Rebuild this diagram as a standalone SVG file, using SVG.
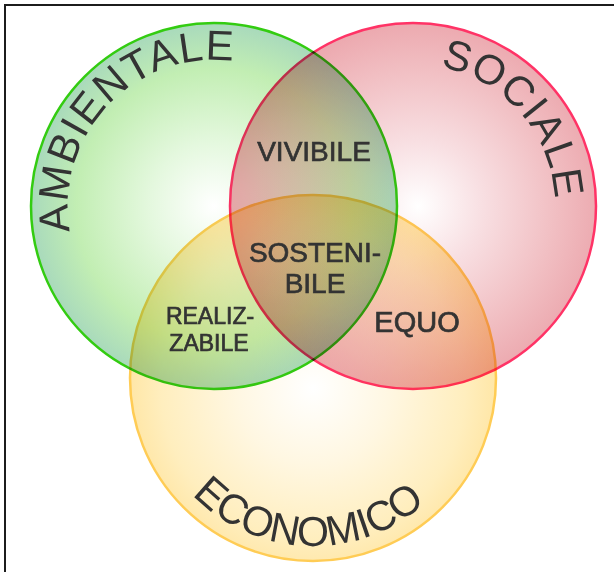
<svg xmlns="http://www.w3.org/2000/svg" width="614" height="572" viewBox="0 0 614 572">
<style>
.ring{stroke-width:2.5;mix-blend-mode:multiply}
.arc{font-family:"Liberation Sans",Arial,sans-serif;font-size:42px;fill:#333}
.lbl{font-family:"Liberation Sans",Arial,sans-serif;fill:#333;stroke:#333;stroke-width:0.7;text-anchor:middle}
</style>
<defs>
<radialGradient id="gG" cx="214" cy="206" r="184" gradientUnits="userSpaceOnUse">
<stop offset="0" stop-color="#ffffff"/>
<stop offset="0.35" stop-color="#e4f8de"/>
<stop offset="0.75" stop-color="#c2eeb3"/>
<stop offset="1" stop-color="#a8d9bc"/>
</radialGradient>
<radialGradient id="gR" cx="418" cy="206" r="184" gradientUnits="userSpaceOnUse">
<stop offset="0" stop-color="#ffffff"/>
<stop offset="0.35" stop-color="#f8dfe2"/>
<stop offset="0.75" stop-color="#f1bec2"/>
<stop offset="1" stop-color="#eca9af"/>
</radialGradient>
<radialGradient id="gY" cx="313" cy="388" r="190" gradientUnits="userSpaceOnUse">
<stop offset="0" stop-color="#ffffff"/>
<stop offset="0.4" stop-color="#fff7e2"/>
<stop offset="0.8" stop-color="#ffeebe"/>
<stop offset="1" stop-color="#ffe5a2"/>
</radialGradient>
<path id="pA" d="M70.2,231.4 A146,146 0 0 1 251.8,65"/>
<path id="pS" d="M440.1,66.7 A142,142 0 0 1 555,203"/>
<path id="pE" d="M192.2,494.7 A168,168 0 0 0 427.6,500.9"/>
</defs>
<rect width="614" height="572" fill="#ffffff"/>
<path d="M5,572 V5 H614" fill="none" stroke="#1c1c1c" stroke-width="2"/>
<g id="ambientale">
<circle class="ring" cx="214" cy="206" r="183" fill="url(#gG)" stroke="#33cc11"/>
</g>
<g id="sociale">
<circle class="ring" cx="413" cy="206" r="183" fill="url(#gR)" stroke="#ff3366"/>
</g>
<g id="economico">
<circle class="ring" cx="313" cy="378" r="183" fill="url(#gY)" stroke="#ffcc55"/>
</g>
<g id="titles">
<text class="arc"><textPath href="#pA" textLength="274" lengthAdjust="spacing">AMBIENTALE</textPath></text>
<text class="arc"><textPath href="#pS" textLength="188" lengthAdjust="spacing">SOCIALE</textPath></text>
<text class="arc"><textPath href="#pE" textLength="258" lengthAdjust="spacingAndGlyphs">ECONOMICO</textPath></text>
</g>
<g id="vivibile"><text class="lbl" x="314" y="161" font-size="28">VIVIBILE</text></g>
<g id="sostenibile"><text class="lbl" x="315" y="262" font-size="28">SOSTENI-</text><text class="lbl" x="315" y="293" font-size="28">BILE</text></g>
<g id="equo"><text class="lbl" x="417" y="332" font-size="29">EQUO</text></g>
<g id="realizzabile"><text class="lbl" x="210" y="324" font-size="23">REALIZ-</text><text class="lbl" x="209" y="351" font-size="23">ZABILE</text></g>
</svg>
